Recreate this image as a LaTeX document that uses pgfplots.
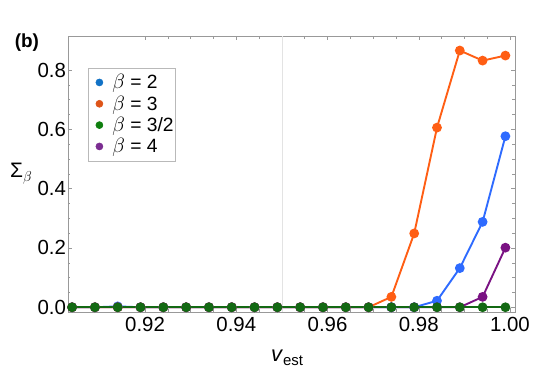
\documentclass[border=0pt]{standalone}
\usepackage{pgfplots}
\pgfplotsset{compat=1.18}
\usepackage{fontspec}
\setmainfont{Liberation Sans}
\definecolor{cblue}{HTML}{2E6BFF}
\definecolor{corange}{HTML}{FF5E14}
\definecolor{cgreen}{HTML}{136913}
\definecolor{cpurple}{HTML}{7A1283}
\definecolor{lblue}{HTML}{1172C6}
\definecolor{lorange}{HTML}{DE5418}
\definecolor{lgreen}{HTML}{0E7F0E}
\definecolor{lpurple}{HTML}{7B2D91}
\begin{document}
\begin{tikzpicture}
\useasboundingbox (-68bp,-65bp) rectangle (470bp,312bp);
\begin{axis}[at={(0,0)}, anchor=south west, scale only axis,
  width=447bp, height=276bp,
  xmin=0.9031, xmax=1.0011, ymin=-0.016, ymax=0.915,
  xtick={0.92,0.94,0.96,0.98,1.00},
  xticklabels={0.92,0.94,0.96,0.98,1.00},
  ytick={0,0.2,0.4,0.6,0.8},
  yticklabels={0.0,0.2,0.4,0.6,0.8},
  minor x tick num=3, minor y tick num=3,
  tick align=inside,
  major tick length=4bp, minor tick length=2.5bp,
  tick style={gray!80, line width=0.5pt},
  axis line style={gray!80, line width=0.7pt},
  tick label style={font=\fontsize{20.5}{22}\selectfont},
  xticklabel style={yshift=-2bp},
  yticklabel style={xshift=1.5bp},
  extra x ticks={0.95}, extra x tick labels={},
  extra x tick style={grid=major, major grid style={gray!22, line width=0.6pt}, major tick length=0pt},
  clip=false,
  legend style={at={(axis description cs:0.045,0.885)}, anchor=north west, draw=gray!55, line width=0.6pt,
    font=\fontsize{19.3}{22}\selectfont, row sep=1.5bp, inner xsep=0bp, inner ysep=4.5bp,
    nodes={inner xsep=2bp}},
  legend image code/.code={\path[draw=none,fill=none] (-3bp,0) -- (19bp,0); \fill[mark size=3.5bp] plot[mark=*] coordinates {(8bp,0bp)};},
  legend cell align=left,
]
\addlegendimage{only marks, mark=*, color=lblue}
\addlegendentry{$\beta$ = 2}
\addlegendimage{only marks, mark=*, color=lorange}
\addlegendentry{$\beta$ = 3}
\addlegendimage{only marks, mark=*, color=lgreen}
\addlegendentry{$\beta$ = 3/2}
\addlegendimage{only marks, mark=*, color=lpurple}
\addlegendentry{$\beta$ = 4}

% beta = 2
\addplot[forget plot, cblue, line width=1.9pt, mark=*, mark size=3.9bp] coordinates {
(0.904,0) (0.909,0) (0.914,0.003) (0.919,0) (0.924,0) (0.929,0) (0.934,0) (0.939,0)
(0.944,0) (0.949,0) (0.954,0) (0.959,0) (0.964,0) (0.969,0) (0.974,0) (0.979,0)
(0.984,0.022) (0.989,0.132) (0.994,0.288) (0.999,0.577)};
% beta = 3
\addplot[forget plot, corange, line width=1.9pt, mark=*, mark size=3.9bp] coordinates {
(0.904,0) (0.909,0) (0.914,0) (0.919,0) (0.924,0) (0.929,0) (0.934,0) (0.939,0)
(0.944,0) (0.949,0) (0.954,0) (0.959,0) (0.964,0) (0.969,0) (0.974,0.035) (0.979,0.249)
(0.984,0.606) (0.989,0.866) (0.994,0.832) (0.999,0.849)};
% beta = 4
\addplot[forget plot, cpurple, line width=1.9pt, mark=*, mark size=3.9bp] coordinates {
(0.904,0) (0.909,0) (0.914,0) (0.919,0) (0.924,0) (0.929,0) (0.934,0) (0.939,0)
(0.944,0) (0.949,0) (0.954,0) (0.959,0) (0.964,0) (0.969,0) (0.974,0) (0.979,0)
(0.984,0) (0.989,0) (0.994,0.035) (0.999,0.201)};
% beta = 3/2
\addplot[forget plot, cgreen, line width=1.9pt, mark=*, mark size=3.9bp] coordinates {
(0.904,0) (0.909,0) (0.914,0) (0.919,0) (0.924,0) (0.929,0) (0.934,0) (0.939,0)
(0.944,0) (0.949,0) (0.954,0) (0.959,0) (0.964,0) (0.969,0) (0.974,0) (0.979,0)
(0.984,0) (0.989,0) (0.994,0) (0.999,0)};

\node at (rel axis cs:-0.105,0.5) {\fontsize{21}{22}\selectfont Σ\raisebox{-4bp}{\fontsize{15}{16}\selectfont$\beta$}};
\node at (rel axis cs:0.49,-0.165) {\fontsize{22}{24}\selectfont \textit{v}\raisebox{-4bp}{\fontsize{15}{16}\selectfont est}};
\node at (rel axis cs:-0.092,0.975) {\fontsize{19}{20}\selectfont\bfseries (b)};
\end{axis}
\end{tikzpicture}
\end{document}
